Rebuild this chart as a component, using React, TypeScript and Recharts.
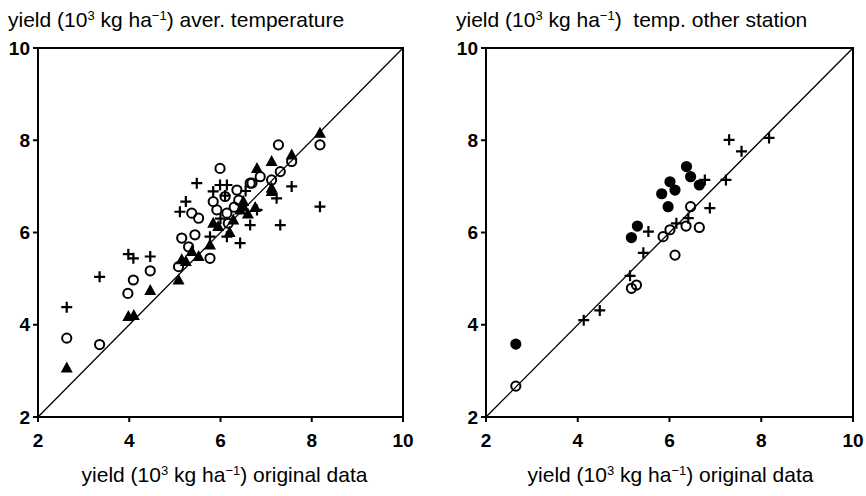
import React from 'react'
import { ScatterChart, Scatter, XAxis, YAxis, ReferenceLine, ReferenceArea } from 'recharts'

// yield pairs [original, model], in 10^3 kg/ha
const axisTicks = [2, 4, 6, 8, 10]

const leftOpen = [
  [2.63, 3.71], [3.35, 3.57], [3.97, 4.68], [4.09, 4.97], [4.46, 5.17], [5.08, 5.26],
  [5.15, 5.88], [5.3, 5.69], [5.37, 6.42], [5.44, 5.95], [5.52, 6.31], [5.77, 5.44],
  [5.84, 6.67], [5.92, 6.49], [5.99, 7.39], [6.1, 6.78], [6.14, 6.42], [6.17, 6.2],
  [6.36, 6.92], [6.4, 6.7], [6.3, 6.55], [6.65, 7.07], [6.69, 7.07], [6.87, 7.21],
  [7.12, 7.14], [7.27, 7.9], [7.31, 7.32], [7.56, 7.54], [8.18, 7.9],
]
const leftTriangle = [
  [2.63, 3.06], [3.98, 4.18], [4.1, 4.2], [4.46, 4.74], [5.08, 4.97], [5.15, 5.41],
  [5.24, 5.37], [5.37, 5.59], [5.52, 5.48], [5.77, 5.73], [5.84, 6.2], [5.95, 6.13],
  [6.2, 6.0], [6.28, 6.27], [6.43, 6.49], [6.5, 6.67], [6.5, 6.56], [6.6, 6.4],
  [6.76, 6.54], [6.8, 7.39], [7.12, 7.54], [7.12, 6.96], [7.12, 6.89], [7.56, 7.68],
  [8.18, 8.15],
]
const leftPlus = [
  [2.63, 4.38], [3.35, 5.04], [3.98, 5.53], [4.09, 5.44], [4.46, 5.48], [5.11, 6.45],
  [5.24, 6.67], [5.48, 7.07], [5.77, 5.91], [5.84, 6.89], [5.99, 7.03], [6.14, 7.03],
  [6.14, 5.91], [6.1, 6.8], [6.0, 6.3], [6.43, 5.77], [6.55, 6.9], [6.65, 6.16],
  [6.8, 6.49], [7.23, 6.74], [7.31, 6.16], [7.56, 7.0], [8.18, 6.56],
]

const rightOpen = [
  [2.65, 2.67], [5.17, 4.79], [5.28, 4.86], [5.86, 5.91], [6.01, 6.06], [6.12, 5.51],
  [6.36, 6.14], [6.46, 6.56], [6.65, 6.11],
]
const rightFilled = [
  [2.65, 3.58], [5.17, 5.89], [5.3, 6.14], [5.83, 6.84], [5.97, 6.56], [6.01, 7.1],
  [6.12, 6.92], [6.37, 7.43], [6.46, 7.21], [6.65, 7.03],
]
const rightPlus = [
  [4.13, 4.1], [4.48, 4.31], [5.14, 5.06], [5.43, 5.56], [5.54, 6.02], [6.15, 6.2],
  [6.41, 6.31], [6.77, 7.14], [6.88, 6.53], [7.23, 7.14], [7.3, 8.01], [7.57, 7.76],
  [8.17, 8.05],
]

const toPoints = (pairs: number[][]) => pairs.map(([x, y]) => ({ x, y }))

const OpenCircle = (p: any) => (
  <circle cx={p.cx} cy={p.cy} r={4.6} fill="none" stroke="#000" strokeWidth={2} />
)
const FilledCircle = (p: any) => <circle cx={p.cx} cy={p.cy} r={5.6} fill="#000" />
const Triangle = (p: any) => {
  const { cx, cy } = p
  return <polygon points={`${cx},${cy - 6.5} ${cx - 6},${cy + 4.5} ${cx + 6},${cy + 4.5}`} fill="#000" />
}
const Plus = (p: any) => {
  const { cx, cy } = p
  return (
    <path d={`M${cx - 5.5},${cy}H${cx + 5.5}M${cx},${cy - 5.5}V${cy + 5.5}`} stroke="#000" strokeWidth={2.2} />
  )
}

const tickStyle = { fill: '#000', fontSize: 19, fontWeight: 600, fontFamily: '"Liberation Sans", Arial, sans-serif' }

type Series = { data: number[][]; shape: any }

function Panel({ series, yWidth, marginRight }: { series: Series[]; yWidth: number; marginRight: number }) {
  return (
    <ScatterChart width={433} height={496} margin={{ top: 48, right: marginRight, bottom: 29, left: 8 }}>
      <XAxis
        type="number" dataKey="x" domain={[2, 10]} ticks={axisTicks} allowDataOverflow
        height={50} tickSize={5} tickMargin={12} tick={tickStyle}
        axisLine={{ stroke: '#000', strokeWidth: 2 }} tickLine={{ stroke: '#000', strokeWidth: 2 }}
      />
      <YAxis
        type="number" dataKey="y" domain={[2, 10]} ticks={axisTicks} allowDataOverflow
        width={yWidth} tickSize={5} tickMargin={3} tick={tickStyle}
        axisLine={{ stroke: '#000', strokeWidth: 2 }} tickLine={{ stroke: '#000', strokeWidth: 2 }}
      />
      <ReferenceArea x1={2} x2={10} y1={2} y2={10} fill="none" stroke="#000" strokeWidth={2} fillOpacity={0} />
      <ReferenceLine segment={[{ x: 2, y: 2 }, { x: 10, y: 10 }]} stroke="#000" strokeWidth={1.3} />
      {series.map((s, i) => (
        <Scatter key={i} data={toPoints(s.data)} shape={s.shape} isAnimationActive={false} />
      ))}
    </ScatterChart>
  )
}

const sup = { fontSize: 13, position: 'relative' as const, top: -7 }

const Unit = () => (
  <>
    yield (10<span style={sup}>3</span> kg ha<span style={sup}>−1</span>)
  </>
)

export default function App() {
  const text = { position: 'absolute' as const, fontSize: 21, lineHeight: '24px', color: '#000', whiteSpace: 'nowrap' as const }
  return (
    <div style={{ position: 'absolute', left: 0, top: 0, width: 866, height: 496, overflow: 'hidden', background: '#fff', fontFamily: '"Liberation Sans", Arial, sans-serif' }}>
      <div style={{ position: 'absolute', left: 0, top: 0 }}>
        <Panel yWidth={30} marginRight={30} series={[
          { data: leftOpen, shape: OpenCircle },
          { data: leftTriangle, shape: Triangle },
          { data: leftPlus, shape: Plus },
        ]} />
      </div>
      <div style={{ position: 'absolute', left: 433, top: 0 }}>
        <Panel yWidth={45} marginRight={13} series={[
          { data: rightOpen, shape: OpenCircle },
          { data: rightFilled, shape: FilledCircle },
          { data: rightPlus, shape: Plus },
        ]} />
      </div>
      <div style={{ ...text, left: 8, top: 8 }}><Unit /> aver. temperature</div>
      <div style={{ ...text, left: 456, top: 8 }}><Unit />{'\u00a0 '}temp. other station</div>
      <div style={{ ...text, left: 42, width: 365, top: 463, textAlign: 'center' }}><Unit /> original data</div>
      <div style={{ ...text, left: 488, width: 365, top: 463, textAlign: 'center' }}><Unit /> original data</div>
    </div>
  )
}
